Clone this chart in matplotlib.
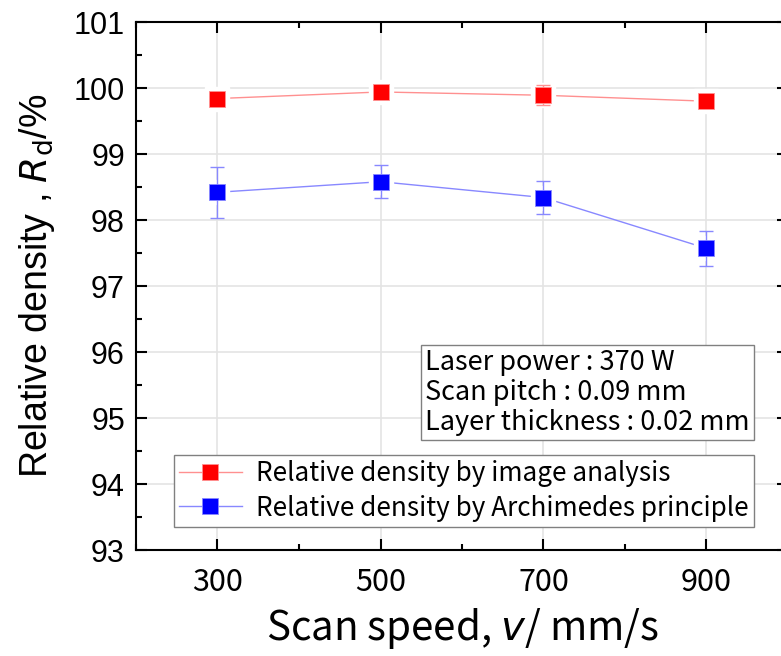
import numpy as np
import matplotlib
matplotlib.use("Agg")
import matplotlib.pyplot as plt
from matplotlib.ticker import MultipleLocator

# data
scan_speed = [300, 500, 700, 900]
rd_image = [99.84, 99.94, 99.89, 99.80]
rd_image_err = [0.0, 0.0, 0.15, 0.0]
rd_archi = [98.42, 98.58, 98.34, 97.57]
rd_archi_err = [0.39, 0.25, 0.25, 0.26]

JP = ["Noto Sans CJK JP", "DejaVu Sans"]
ARIAL = ["Liberation Sans", "DejaVu Sans"]

fig = plt.figure(figsize=(7.81, 6.56), dpi=100)
ax = fig.add_axes([136 / 781, 1 - 550 / 656, (788 - 136) / 781, (550 - 22) / 656])

series = [
    (rd_image, rd_image_err, "red", "#ff9090", "Relative density by image analysis"),
    (rd_archi, rd_archi_err, "blue", "#8888ff", "Relative density by Archimedes principle"),
]
for vals, err, fc, lc, label in series:
    ax.plot(scan_speed, vals, color=lc, lw=1, zorder=2)
    # white halo so the connecting line stops short of each marker
    ax.plot(scan_speed, vals, ls="none", marker="s", ms=17, mfc="white", mec="white", zorder=2.5)
    ax.errorbar(scan_speed, vals, yerr=err, fmt="none", ecolor=lc, elinewidth=1,
                capsize=5, capthick=1, zorder=3)
    ax.plot(scan_speed, vals, ls="none", marker="s", ms=11.5, mfc=fc,
            mec=lc, mew=0.6, zorder=4)
    # legend proxy
    ax.plot([], [], color=lc, lw=1, marker="s", ms=11.5, mfc=fc, mec=lc, mew=0.6, label=label)

ax.set_xlim(200, 1000)
ax.set_ylim(93, 101)
ax.xaxis.set_minor_locator(MultipleLocator(100))
ax.set_xticks(scan_speed)
ax.yaxis.set_major_locator(MultipleLocator(1))
ax.yaxis.set_minor_locator(MultipleLocator(0.5))
ax.grid(True, which="major", color="#e4e4e4", lw=1.2, zorder=0)
ax.set_axisbelow(True)

ax.tick_params(which="both", direction="in", top=True, right=True, width=1.5, color="black")
ax.tick_params(which="major", length=8)
ax.tick_params(which="minor", length=4)
ax.tick_params(axis="y", pad=8)
ax.tick_params(axis="x", pad=12)
for s in ax.spines.values():
    s.set_linewidth(1.5)

for lab in ax.get_yticklabels():
    lab.set_fontfamily(ARIAL)
    lab.set_fontsize(22)
for lab in ax.get_xticklabels():
    lab.set_fontfamily(JP)
    lab.set_fontsize(22)

ax.set_ylabel(r"Relative density , $\mathit{R}_{\mathrm{d}}$/%", fontsize=27,
              family=ARIAL, labelpad=12)
ax.set_xlabel(r"Scan speed, $\mathit{v}$/ mm/s", fontsize=29, family=JP, labelpad=6)

leg = ax.legend(loc="lower left", bbox_to_anchor=(0.058, 0.044), prop={"family": JP, "size": 18.8},
                frameon=True, fancybox=False, edgecolor="#808080", framealpha=1,
                handlelength=2.4, borderpad=0.2, labelspacing=0.28, handletextpad=0.55,
                borderaxespad=0)
leg.get_frame().set_linewidth(1)

ax.text(0.443, 0.216, "Laser power : 370 W\nScan pitch : 0.09 mm\nLayer thickness : 0.02 mm",
        transform=ax.transAxes, fontsize=19.5, family=JP, va="bottom", ha="left",
        linespacing=1.14,
        bbox=dict(boxstyle="square,pad=0.15", fc="white", ec="#808080", lw=1))

fig.savefig("out.png", dpi=100)
